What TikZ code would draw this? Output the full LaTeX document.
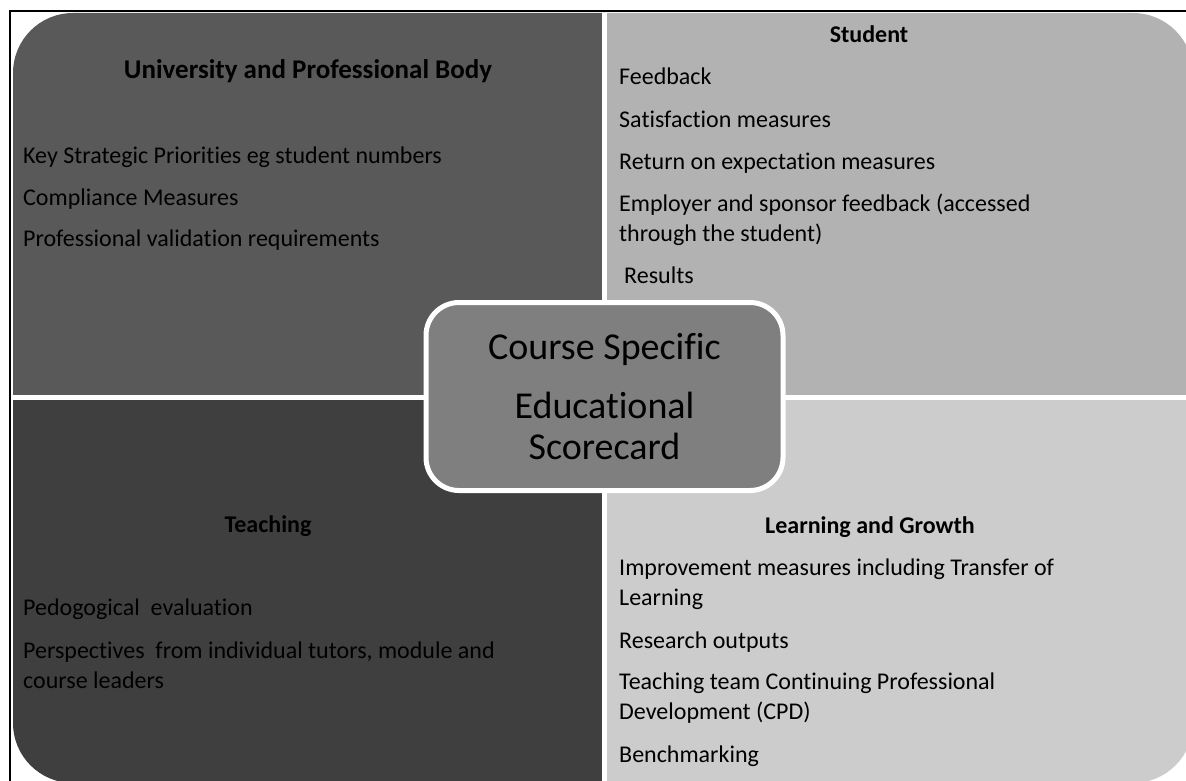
\documentclass[tikz,border=0pt]{standalone}
\usepackage{fontspec}
\setmainfont{Carlito}[Ligatures=NoCommon]
\usetikzlibrary{positioning}
\definecolor{unigray}{HTML}{595959}
\definecolor{studgray}{HTML}{B2B2B2}
\definecolor{teachgray}{HTML}{3F3F3F}
\definecolor{growgray}{HTML}{CCCCCC}
\definecolor{coregray}{HTML}{7F7F7F}

\begin{document}
\begin{tikzpicture}[x=1pt, y=-1pt,
	quad/.style={rounded corners=60pt},
	head/.style={font=\fontsize{24}{29}\selectfont\bfseries, anchor=base, inner sep=0pt},
	item/.style={font=\fontsize{24}{30}\selectfont, anchor=base west, align=left, inner sep=0pt},
	core/.style={draw=white, line width=5pt, fill=coregray, rounded corners=33pt,
		minimum width=357pt, minimum height=188pt, align=center,
		font=\fontsize{38}{41}\selectfont}]
	\useasboundingbox (0,0) rectangle (1186,781);
	\clip (0,0) rectangle (1186,781);
	\draw[line width=2.5pt] (10,11) rectangle (1230,830);
	% the four quarters
	\foreach \qcol/\xa/\ya/\xb/\yb in {unigray/0/0/604.5/397.5, studgray/604.5/0/1200/397.5,
		teachgray/0/397.5/604.5/800, growgray/604.5/397.5/1200/800}{
		\begin{scope}
			\clip (\xa,\ya) rectangle (\xb,\yb);
			\fill[\qcol, quad] (13,13) rectangle (1193,783);
		\end{scope}
	}
	\coordinate (vtop) at (604.5,13);
	\coordinate (vbot) at (604.5,783);
	\coordinate (hleft) at (13,397.5);
	\coordinate (hright) at (1193,397.5);
	\draw[white, line width=5pt] (vtop) -- (vbot) (hleft) -- (hright);
	% University and Professional Body
	\node[head, font=\fontsize{27}{29}\selectfont\bfseries] (unihead) at (308,79) {University and Professional Body};
	\node[item] (uni1) at (23,164) {Key Strategic Priorities eg student numbers};
	\node[item] (uni2) at (23,205) {Compliance Measures};
	\node[item] (uni3) at (23,246) {Professional validation requirements};
	% Student
	\node[head] (studhead) at (869,43) {Student};
	\node[item] (stud1) at (619,85) {Feedback};
	\node[item] (stud2) at (619,128) {Satisfaction measures};
	\node[item] (stud3) at (619,170) {Return on expectation measures};
	\node[item] (stud4) at (619,241) {Employer and sponsor feedback (accessed\\through the student)};
	\node[item] (stud5) at (624,283) {Results};
	% Teaching
	\node[head] (teachhead) at (268,532) {Teaching};
	\node[item] (teach1) at (23,615) {Pedogogical\ \ evaluation};
	\node[item] (teach2) at (23,688) {Perspectives\ \ from individual tutors, module and\\course leaders};
	% Learning and Growth
	\node[head] (growhead) at (870,533) {Learning and Growth};
	\node[item] (grow1) at (619,605) {Improvement measures including Transfer of\\Learning};
	\node[item] (grow2) at (619,648) {Research outputs};
	\node[item] (grow3) at (619,719) {Teaching team Continuing Professional\\Development (CPD)};
	\node[item] (grow4) at (619,762) {Benchmarking};
	% centre
	\node[core] (core) at (604.5,396.5) {Course Specific\\[18pt]Educational\\Scorecard};
\end{tikzpicture}
\end{document}
